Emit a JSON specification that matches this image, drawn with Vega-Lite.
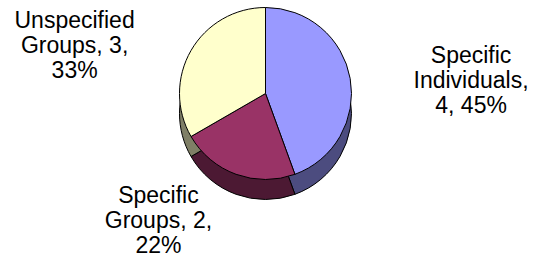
{
  "$schema": "https://vega.github.io/schema/vega-lite/v6.json",
  "width": 543,
  "height": 259,
  "autosize": {"type": "fit", "contains": "padding"},
  "padding": {"left": 0, "right": 12, "top": 0, "bottom": 24},
  "background": "white",
  "config": {"view": {"stroke": null}},
  "data": {
    "values": [
      {"category": "Specific Individuals", "value": 4, "order": 1, "label": "Specific\nIndividuals,\n4, 45%"},
      {"category": "Specific Groups", "value": 2, "order": 2, "label": "Specific\nGroups, 2,\n22%"},
      {"category": "Unspecified Groups", "value": 3, "order": 3, "label": "Unspecified\nGroups, 3,\n33%"}
    ]
  },
  "encoding": {
    "theta": {"field": "value", "type": "quantitative", "stack": true},
    "order": {"field": "order", "type": "quantitative"}
  },
  "layer": [
    {
      "mark": {"type": "arc", "outerRadius": 86, "yOffset": 20, "stroke": "black", "strokeWidth": 1},
      "encoding": {
        "color": {
          "field": "category", "type": "nominal", "legend": null,
          "scale": {"domain": ["Specific Individuals", "Specific Groups", "Unspecified Groups"], "range": ["#4C4C7F", "#4C1933", "#7F7F66"]}
        }
      }
    },
    {
      "mark": {"type": "arc", "outerRadius": 86, "stroke": "black", "strokeWidth": 1},
      "encoding": {
        "color": {
          "field": "category", "type": "nominal", "legend": null,
          "scale": {"domain": ["Specific Individuals", "Specific Groups", "Unspecified Groups"], "range": ["#9999FF", "#993366", "#FFFFCC"]}
        }
      }
    },
    {
      "mark": {"type": "text", "radius": 160, "dx": 48, "dy": -10, "font": "Liberation Sans", "fontSize": 23, "lineHeight": 25, "lineBreak": "\n", "align": "center", "baseline": "middle", "color": "black"},
      "encoding": {
        "text": {"condition": {"test": "datum.category === 'Specific Individuals'", "field": "label"}, "value": ""}
      }
    },
    {
      "mark": {"type": "text", "radius": 123, "dx": -65, "dy": -13, "font": "Liberation Sans", "fontSize": 23, "lineHeight": 25, "lineBreak": "\n", "align": "center", "baseline": "middle", "color": "black"},
      "encoding": {
        "text": {"condition": {"test": "datum.category === 'Specific Groups'", "field": "label"}, "value": ""}
      }
    },
    {
      "mark": {"type": "text", "radius": 165, "dx": -48, "dy": 10, "font": "Liberation Sans", "fontSize": 23, "lineHeight": 25, "lineBreak": "\n", "align": "center", "baseline": "middle", "color": "black"},
      "encoding": {
        "text": {"condition": {"test": "datum.category === 'Unspecified Groups'", "field": "label"}, "value": ""}
      }
    }
  ],
  "resolve": {"scale": {"color": "independent"}}
}
